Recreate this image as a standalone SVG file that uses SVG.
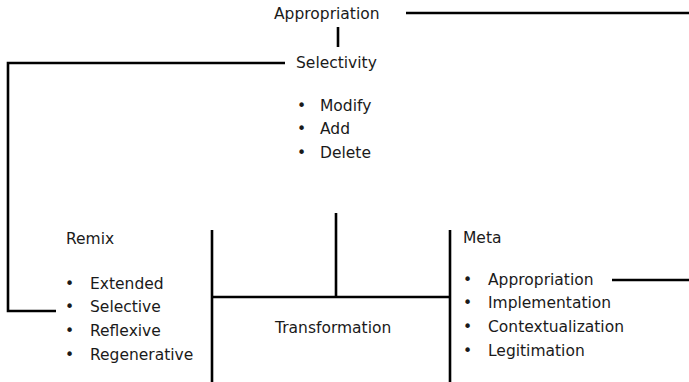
<svg xmlns="http://www.w3.org/2000/svg" width="689" height="382" viewBox="0 0 689 382">
<style>
text{font-family:"DejaVu Sans","Liberation Sans",sans-serif;font-size:15.5px;fill:#1a1a1a}
.ln{stroke:#000;stroke-width:2.6;fill:none}
</style>
<rect width="689" height="382" fill="#fff"/>
<g id="connectors">
<line class="ln" x1="406" y1="13" x2="689" y2="13"/>
<line class="ln" x1="338" y1="27" x2="338" y2="47"/>
<polyline class="ln" points="285,63 8,63 8,311 56,311"/>
<line class="ln" x1="212" y1="230" x2="212" y2="382"/>
<line class="ln" x1="450" y1="230" x2="450" y2="382"/>
<line class="ln" x1="212" y1="297" x2="450" y2="297"/>
<line class="ln" x1="336" y1="213" x2="336" y2="297"/>
<line class="ln" x1="612" y1="280" x2="689" y2="280"/>
</g>
<g id="appropriation"><text x="274" y="19">Appropriation</text></g>
<g id="selectivity">
<text x="296" y="68">Selectivity</text>
<text x="297" y="111">•</text><text x="320" y="111">Modify</text>
<text x="297" y="134">•</text><text x="320" y="134">Add</text>
<text x="297" y="158">•</text><text x="320" y="158">Delete</text>
</g>
<g id="remix">
<text x="66" y="244">Remix</text>
<text x="65" y="289">•</text><text x="90" y="289">Extended</text>
<text x="65" y="312">•</text><text x="90" y="312">Selective</text>
<text x="65" y="336">•</text><text x="90" y="336">Reflexive</text>
<text x="65" y="360">•</text><text x="90" y="360">Regenerative</text>
</g>
<g id="transformation"><text x="275" y="333">Transformation</text></g>
<g id="meta">
<text x="463" y="243">Meta</text>
<text x="463" y="285">•</text><text x="488" y="285">Appropriation</text>
<text x="463" y="308">•</text><text x="488" y="308">Implementation</text>
<text x="463" y="332">•</text><text x="488" y="332">Contextualization</text>
<text x="463" y="356">•</text><text x="488" y="356">Legitimation</text>
</g>
</svg>
